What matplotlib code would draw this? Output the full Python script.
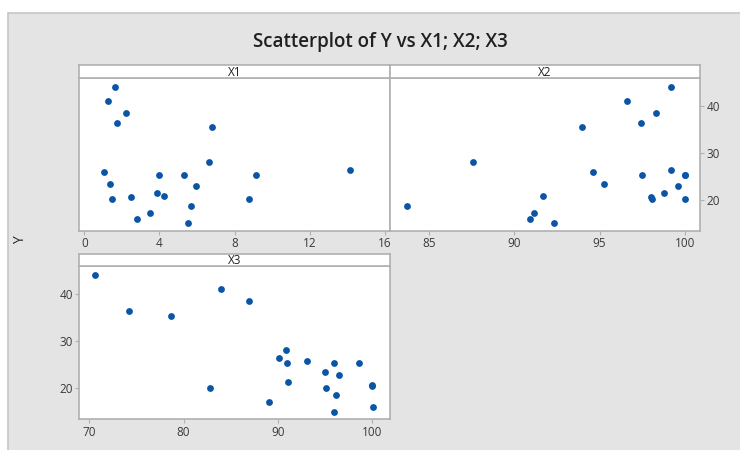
import matplotlib
matplotlib.use("Agg")
import matplotlib.pyplot as plt
from matplotlib.patches import Rectangle

plt.rcParams['font.family'] = ['Open Sans', 'DejaVu Sans']

y = [44.2, 41.1, 38.6, 36.5, 35.5, 28.1, 26.4, 25.9, 25.4, 25.4, 25.4, 23.4,
     22.9, 21.4, 20.8, 20.6, 20.1, 20.1, 18.6, 17.1, 16.0, 15.0]
x1 = [1.65, 1.24, 2.2, 1.74, 6.77, 6.65, 14.15, 1.06, 3.99, 5.28, 9.11, 1.35,
      5.92, 3.88, 4.26, 2.46, 1.47, 8.78, 5.67, 3.48, 2.78, 5.51]
x2 = [99.2, 96.6, 98.3, 97.45, 93.96, 87.57, 99.2, 94.63, 97.5, 100.0, 100.0, 95.24,
      99.6, 98.78, 91.7, 98.0, 98.1, 100.0, 83.69, 91.16, 90.92, 92.33]
x3 = [70.64, 84.0, 86.98, 74.24, 78.63, 90.87, 90.09, 93.13, 91.01, 95.96, 98.62, 94.97,
      96.53, 91.08, 100.0, 100.0, 82.8, 95.1, 96.18, 89.03, 100.07, 95.96]

panel_names = ["X1", "X2", "X3"]
x1_ticks = [0, 4, 8, 12, 16]
x2_ticks = [85, 90, 95, 100]
x3_ticks = [70, 80, 90, 100]
y_ticks = [20, 30, 40]

W, H = 740, 450
fig = plt.figure(figsize=(W / 100, H / 100), dpi=100)
fig.patch.set_facecolor("white")

# gray background panel
bg = Rectangle((8 / W, -0.01), 1, 1.01 - 13 / H, transform=fig.transFigure,
               facecolor="#e4e4e4", edgecolor="#c6c6c6", lw=1.2, zorder=-10)
fig.patches.append(bg)

def fr(l, r, t, b):
    return [l / W, 1 - b / H, (r - l) / W, (b - t) / H]

frame_col = "#b0b0b0"
tick_col = "#3a3a3a"
mcol = "#0a55a5"

def make_panel(rect_plot, rect_head, xs, ticks, xlim, name, yside):
    ax = fig.add_axes(rect_plot)
    ax.set_facecolor("white")
    ax.scatter(xs, y, s=24, color=mcol, marker="o", linewidths=0, zorder=3)
    ax.set_xlim(*xlim)
    ax.set_ylim(13.4, 46.0)
    ax.set_xticks(ticks)
    ax.set_xticklabels([str(t) for t in ticks])
    for s in ax.spines.values():
        s.set_color(frame_col)
        s.set_linewidth(1.2)
    ax.tick_params(axis="both", direction="out", length=3, width=0.8, color=frame_col,
                   labelsize=8.5, labelcolor=tick_col, pad=1.5)
    if yside == "left":
        ax.set_yticks(y_ticks)
        ax.yaxis.tick_left()
    elif yside == "right":
        ax.set_yticks(y_ticks)
        ax.yaxis.tick_right()
    else:
        ax.set_yticks([])
    hx = fig.add_axes(rect_head)
    hx.set_facecolor("white")
    hx.set_xticks([])
    hx.set_yticks([])
    for s in hx.spines.values():
        s.set_color(frame_col)
        s.set_linewidth(1.2)
    hx.text(0.5, 0.45, name, ha="center", va="center", fontsize=8.5, color="#202020",
            transform=hx.transAxes)
    return ax

make_panel(fr(79, 390, 78.3, 230.7), fr(79, 390, 65, 78.3), x1, x1_ticks,
           (-0.28, 16.26), panel_names[0], None)
make_panel(fr(390, 700, 78.3, 230.7), fr(390, 700, 65, 78.3), x2, x2_ticks,
           (82.7, 100.9), panel_names[1], "right")
make_panel(fr(79.3, 390, 266.3, 419.3), fr(79.3, 390, 254, 266.3), x3, x3_ticks,
           (68.94, 101.9), panel_names[2], "left")

fig.text(380 / W, 1 - 42 / H, "Scatterplot of Y vs X1; X2; X3", ha="center", va="center",
         fontsize=13.5, fontweight="semibold", color="#202020")
fig.text(21 / W, 1 - 240 / H, "Y", ha="center", va="center", rotation=90,
         fontsize=10, color="#202020")

fig.savefig("out.png", dpi=100, facecolor=fig.get_facecolor())
